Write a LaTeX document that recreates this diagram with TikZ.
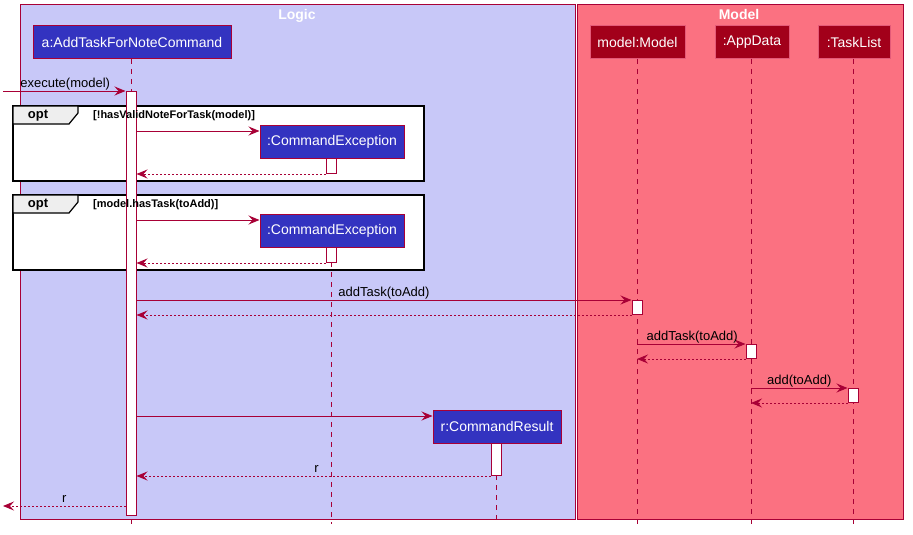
\documentclass[tikz,border=0pt]{standalone}
\usepackage{fontspec}
\setmainfont{Liberation Sans}
\usetikzlibrary{arrows.meta}

\definecolor{crimson}{RGB}{168,0,54}
\definecolor{logicbg}{RGB}{200,200,248}
\definecolor{modelbg}{RGB}{251,113,129}
\definecolor{partblue}{RGB}{51,51,192}
\definecolor{partred}{RGB}{162,0,26}
\definecolor{partredline}{RGB}{228,90,120}
\definecolor{tabgray}{RGB}{238,238,238}

\begin{document}
\begin{tikzpicture}[x=1pt,y=-1pt,
  pkg/.style={draw=crimson, line width=1pt},
  pkgtitle/.style={text=white, font=\fontsize{14}{16}\selectfont\bfseries, inner sep=0pt, anchor=base},
  logicpart/.style={draw=crimson, fill=partblue, text=white, line width=1pt,
    minimum height=33pt, inner sep=0pt, font=\fontsize{14}{16}\selectfont},
  modelpart/.style={draw=partredline, fill=partred, text=white, line width=1pt,
    minimum height=33pt, inner sep=0pt, font=\fontsize{14}{16}\selectfont},
  lifeline/.style={draw=crimson, line width=1pt, dash pattern=on 5pt off 5pt},
  act/.style={draw=crimson, fill=white, line width=1pt, minimum width=10pt, inner sep=0pt},
  msg/.style={draw=crimson, line width=1pt, -{Stealth[length=11pt,width=9pt,inset=4pt]}},
  ret/.style={msg, dash pattern=on 2pt off 2pt},
  lbl/.style={font=\fontsize{13}{15}\selectfont, text=black, inner sep=0pt},
  frame/.style={draw=black, fill=white, line width=2.2pt},
  tab/.style={draw=black, fill=tabgray, line width=1.2pt},
  optlbl/.style={font=\fontsize{13}{15}\selectfont\bfseries, inner sep=0pt},
  guard/.style={font=\fontsize{11}{13}\selectfont\bfseries, text=black, inner sep=0pt, anchor=west}
]
\useasboundingbox[fill=white] (0,0) rectangle (913,535);

% packages
\draw[pkg, fill=logicbg] (20,5) rectangle (575,519);
\draw[pkg, fill=modelbg] (577,5) rectangle (903,519);
\node[pkgtitle] (logicT) at (297,20) {Logic};
\node[pkgtitle] (modelT) at (739,20) {Model};

% participants
\node[logicpart, minimum width=198pt] (a) at (132,42.5) {a:AddTaskForNoteCommand};
\node[modelpart, minimum width=95pt] (model) at (637.5,42.5) {model:Model};
\node[modelpart, minimum width=74pt] (appdata) at (752,42.5) {:AppData};
\node[modelpart, minimum width=72pt] (tasklist) at (854,42.5) {:TaskList};

% opt frames
\draw[frame] (13,106) rectangle (424,181);
\draw[tab] (13,106) -- (78,106) -- (78,113) -- (69,124) -- (13,124) -- cycle;
\node[optlbl] (opt1) at (38,116) {opt};

\draw[frame] (13,195) rectangle (424,270);
\draw[tab] (13,195) -- (78,195) -- (78,202) -- (69,213) -- (13,213) -- cycle;
\node[optlbl] (opt2) at (38,205) {opt};

% created participants
\node[logicpart, minimum width=144pt] (ce1) at (332,141.5) {:CommandException};
\node[logicpart, minimum width=144pt] (ce2) at (332,230.5) {:CommandException};
\node[logicpart, minimum width=128pt] (cr) at (497,426.5) {r:CommandResult};

% lifelines
\coordinate (endA) at (131,524);
\coordinate (endCE) at (331,524);
\coordinate (endCR) at (496,524);
\coordinate (endM) at (637,524);
\coordinate (endD) at (751,524);
\coordinate (endT) at (853,524);
\draw[lifeline] (131,59) -- (endA);
\draw[lifeline] (331,262) -- (endCE);
\draw[lifeline] (496,475) -- (endCR);
\draw[lifeline] (637,59) -- (endM);
\draw[lifeline] (751,59) -- (endD);
\draw[lifeline] (853,59) -- (endT);

% activations
\node[act, minimum height=424pt, anchor=north] (actA) at (131,91) {};
\node[act, minimum height=15pt, anchor=north] (actE1) at (331,158) {};
\node[act, minimum height=15pt, anchor=north] (actE2) at (331,247) {};
\node[act, minimum height=14pt, anchor=north] (actM) at (637,300) {};
\node[act, minimum height=14pt, anchor=north] (actD) at (751,344) {};
\node[act, minimum height=14pt, anchor=north] (actT) at (853,388) {};
\node[act, minimum height=32pt, anchor=north] (actR) at (496,443) {};

% guards sit over the activation bar
\node[guard] (g1) at (93,116) {[!hasValidNoteForTask(model)]};
\node[guard] (g2) at (93,205) {[model.hasTask(toAdd)]};

% message levels
\coordinate (caller) at (3,91);
\coordinate (yE1) at (0,131);
\coordinate (yE2) at (0,220);
\coordinate (yCR) at (0,416);
\coordinate (callerR) at (3,506);

% messages
\draw[msg] (caller) -- (actA.north west)
  node[lbl, pos=0.5, above=0.5pt, xshift=1pt] (lExec) {execute(model)};

\draw[msg] (actA.east |- yE1) -- (ce1.west |- yE1);
\draw[ret] (actE1.south west) -- (actA.east |- actE1.south west);

\draw[msg] (actA.east |- yE2) -- (ce2.west |- yE2);
\draw[ret] (actE2.south west) -- (actA.east |- actE2.south west);

\draw[msg] (actA.east |- actM.north west) -- (actM.north west)
  node[lbl, pos=0.5, above=0.5pt] (l1) {addTask(toAdd)};
\draw[ret] (actM.south west) -- (actA.east |- actM.south west);

\draw[msg] (endM |- actD.north west) -- (actD.north west)
  node[lbl, pos=0.5, above=0.5pt, xshift=1pt] (l2) {addTask(toAdd)};
\draw[ret] (actD.south west) -- (endM |- actD.south west);

\draw[msg] (endD |- actT.north west) -- (actT.north west)
  node[lbl, pos=0.5, above=0.5pt] (l3) {add(toAdd)};
\draw[ret] (actT.south west) -- (endD |- actT.south west);

\draw[msg] (actA.east |- yCR) -- (cr.west |- yCR);
\draw[ret] (actR.south west) -- (actA.east |- actR.south west)
  node[lbl, pos=0.5, above=3pt, xshift=3pt] (lr1) {r};

\draw[ret] (actA.west |- callerR) -- (callerR)
  node[lbl, pos=0.5, above=3pt] (lr2) {r};
\end{tikzpicture}
\end{document}
